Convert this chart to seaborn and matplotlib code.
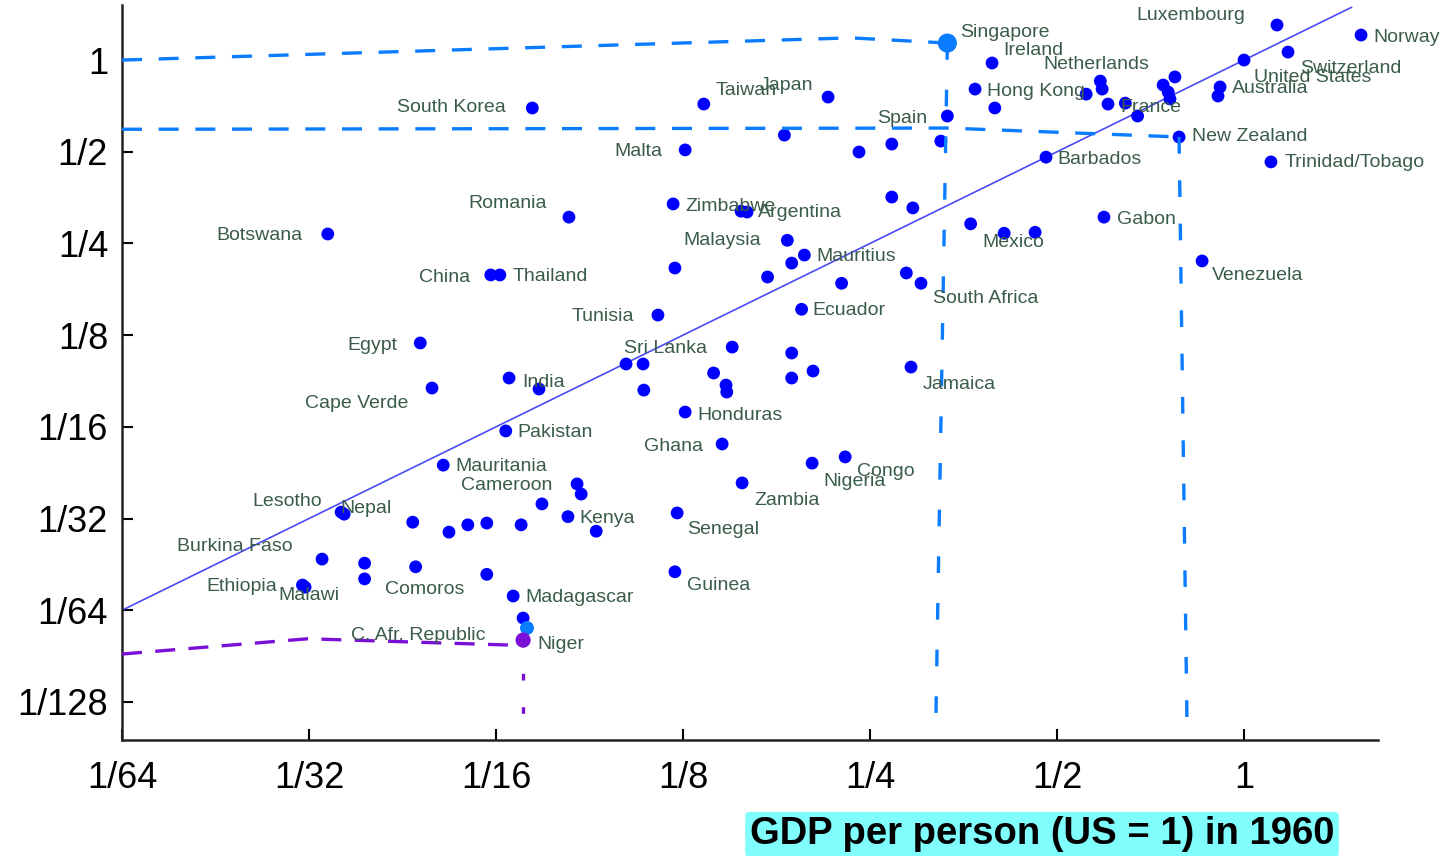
import matplotlib
matplotlib.use("Agg")
import matplotlib.pyplot as plt
import seaborn as sns
import pandas as pd

# GDP per person relative to the US: 1960 (x) and the later year (y)
countries = [
    "Luxembourg", "Norway", "Singapore", "Switzerland", "United States", "Ireland",
    "Netherlands", "", "", "Hong Kong", "", "France", "", "", "", "", "", "",
    "Australia", "", "New Zealand", "Trinidad/Tobago", "Barbados", "Spain",
    "", "", "", "", "Japan", "Taiwan", "South Korea", "Malta", "Gabon",
    "", "", "", "Mexico", "", "Venezuela", "", "South Africa", "Jamaica",
    "Romania", "Zimbabwe", "", "Argentina", "Malaysia", "Mauritius", "", "", "", "",
    "Ecuador", "Botswana", "China", "Thailand", "Tunisia", "Egypt", "Sri Lanka",
    "", "", "", "", "", "", "", "", "", "India", "", "Cape Verde", "Honduras",
    "Pakistan", "Ghana", "Mauritania", "Nigeria", "Congo", "Zambia", "Cameroon",
    "", "", "Kenya", "", "Senegal", "Lesotho", "Nepal", "", "", "", "", "",
    "Burkina Faso", "", "", "Comoros", "Ethiopia", "Malawi", "", "Guinea",
    "Madagascar", "", "C. Afr. Republic", "Niger",
]
gdp_1960 = [
    1.130, 1.543, 0.333, 1.177, 1.000, 0.393,
    0.587, 0.591, 0.557, 0.369, 0.397, 0.604, 0.644, 0.674, 0.774, 0.741, 0.755, 0.760,
    0.915, 0.908, 0.786, 1.105, 0.480, 0.333,
    0.325, 0.271, 0.240, 0.182, 0.214, 0.135, 0.0715, 0.126, 0.595,
    0.271, 0.293, 0.363, 0.411, 0.461, 0.856, 0.286, 0.302, 0.291,
    0.0819, 0.1205, 0.155, 0.1585, 0.184, 0.196, 0.187, 0.171, 0.225, 0.1213,
    0.194, 0.0335, 0.0613, 0.0634, 0.1139, 0.0472, 0.1012,
    0.1078, 0.150, 0.187, 0.2024, 0.187, 0.140, 0.1466, 0.147, 0.1081, 0.0656, 0.0733, 0.0493, 0.126,
    0.0648, 0.1445, 0.0514, 0.2017, 0.228, 0.1556, 0.0844,
    0.0857, 0.0741, 0.0816, 0.0906, 0.1223, 0.0352, 0.0356, 0.0459, 0.0525, 0.0563, 0.0604, 0.0686,
    0.0328, 0.0384, 0.0464, 0.0384, 0.0305, 0.0308, 0.0604, 0.1213,
    0.0666, 0.0691, 0.0701, 0.0691,
]
gdp_recent = [
    1.303, 1.208, 1.137, 1.062, 1.000, 0.978,
    0.853, 0.803, 0.773, 0.803, 0.696, 0.717, 0.722, 0.655, 0.880, 0.828, 0.785, 0.745,
    0.816, 0.762, 0.559, 0.463, 0.480, 0.655,
    0.542, 0.530, 0.499, 0.567, 0.756, 0.717, 0.696, 0.507, 0.305,
    0.355, 0.327, 0.290, 0.270, 0.272, 0.219, 0.200, 0.185, 0.0982,
    0.305, 0.337, 0.319, 0.317, 0.256, 0.229, 0.2155, 0.194, 0.185, 0.2076,
    0.152, 0.2685, 0.197, 0.197, 0.1455, 0.1178, 0.1005,
    0.1005, 0.1142, 0.1092, 0.0953, 0.0904, 0.0939, 0.0857, 0.0813, 0.0825, 0.0904, 0.0832, 0.0838, 0.0699,
    0.0606, 0.0549, 0.0468, 0.0475, 0.0498, 0.0409, 0.0406,
    0.0376, 0.0349, 0.0317, 0.0284, 0.0326, 0.0328, 0.0323, 0.0304, 0.0282, 0.0298, 0.0302, 0.0298,
    0.0230, 0.0223, 0.0217, 0.0198, 0.0189, 0.0186, 0.0205, 0.0209,
    0.0174, 0.01473, 0.01366, 0.01247,
]

# 45-degree reference line (equal relative income in both years)
ref_line = [1 / 64, 1.49]

tick_values = [1 / 64, 1 / 32, 1 / 16, 1 / 8, 1 / 4, 1 / 2, 1]
tick_labels = ["1/64", "1/32", "1/16", "1/8", "1/4", "1/2", "1"]
y_tick_values = [1 / 128, 1 / 64, 1 / 32, 1 / 16, 1 / 8, 1 / 4, 1 / 2, 1]
y_tick_labels = ["1/128", "1/64", "1/32", "1/16", "1/8", "1/4", "1/2", "1"]
x_title = "GDP per person (US = 1) in 1960"

# label placement: (dx px, dy px downward, horizontal alignment)
label_pos = {
    "Luxembourg": (-32, -10, "right"), "Norway": (12, 2, "left"),
    "Singapore": (13, -11, "left"), "Switzerland": (12, 16, "left"),
    "United States": (10, 17, "left"), "Ireland": (11, -12, "left"),
    "Netherlands": (-4, -17, "center"), "Hong Kong": (12, 2, "left"),
    "France": (12, 3, "left"), "Australia": (12, 2, "left"),
    "New Zealand": (13, 0, "left"), "Trinidad/Tobago": (14, 1, "left"),
    "Barbados": (11, 2, "left"), "Spain": (-20, 2, "right"),
    "Japan": (-15, -12, "right"), "Taiwan": (12, -14, "left"),
    "South Korea": (-27, 0, "right"), "Malta": (-23, 2, "right"),
    "Gabon": (13, 2, "left"), "Mexico": (-22, 9, "left"),
    "Venezuela": (10, 15, "left"), "South Africa": (12, 15, "left"),
    "Jamaica": (12, 17, "left"), "Romania": (-22, -14, "right"),
    "Zimbabwe": (12, 3, "left"), "Argentina": (11, 0, "left"),
    "Malaysia": (-26, 0, "right"), "Mauritius": (12, 1, "left"),
    "Ecuador": (11, 1, "left"), "Botswana": (-25, 1, "right"),
    "China": (-21, 3, "right"), "Thailand": (13, 2, "left"),
    "Tunisia": (-24, 1, "right"), "Egypt": (-23, 3, "right"),
    "Sri Lanka": (-2, -16, "left"), "India": (13, 4, "left"),
    "Cape Verde": (-24, 15, "right"), "Honduras": (12, 3, "left"),
    "Pakistan": (12, 2, "left"), "Ghana": (-19, 3, "right"),
    "Mauritania": (12, 1, "left"), "Nigeria": (11, 18, "left"),
    "Congo": (12, 15, "left"), "Zambia": (12, 18, "left"),
    "Cameroon": (-25, 2, "right"), "Kenya": (11, 2, "left"),
    "Senegal": (10, 17, "left"), "Lesotho": (-19, -11, "right"),
    "Nepal": (-4, -6, "left"), "Burkina Faso": (-29, -13, "right"),
    "Comoros": (20, 11, "left"), "Ethiopia": (-25, 1, "right"),
    "Malawi": (-27, 8, "left"), "Guinea": (12, 14, "left"),
    "Madagascar": (12, 1, "left"), "C. Afr. Republic": (-42, 7, "right"),
    "Niger": (14, 4, "left"),
}

df = pd.DataFrame({"country": countries, "gdp_1960": gdp_1960, "gdp_recent": gdp_recent})

sns.set_style("ticks")
plt.rcParams["font.family"] = ["Liberation Sans", "DejaVu Sans"]

fig = plt.figure(figsize=(14.43, 8.56), dpi=100)
ax = fig.add_axes([122 / 1443, 116 / 856, 1256 / 1443, 735 / 856])

sns.lineplot(x=ref_line, y=ref_line, ax=ax, color="#4a4af5", linewidth=1.2, zorder=2)
sns.scatterplot(data=df, x="gdp_1960", y="gdp_recent", ax=ax, color="#0000ff",
                s=85, edgecolor="none", linewidth=0, zorder=3)

label_color = "#3a5c48"
for name, xv, yv in zip(countries, gdp_1960, gdp_recent):
    if not name:
        continue
    dx, dy, ha = label_pos[name]
    ax.annotate(name, (xv, yv), xytext=(dx, -dy), textcoords="offset pixels",
                ha=ha, va="center", fontsize=14, color=label_color, zorder=5)

ax.set_xscale("log", base=2)
ax.set_yscale("log", base=2)
x_lo, x_hi = 1 / 64, 1.643
y_lo, y_hi = 2 ** -7.415, 1.516
ax.set_xlim(x_lo, x_hi)
ax.set_ylim(y_lo, y_hi)
ax.set_xticks(tick_values)
ax.set_xticklabels(tick_labels)
ax.set_yticks(y_tick_values)
ax.set_yticklabels(y_tick_labels)
ax.minorticks_off()
ax.tick_params(axis="both", direction="in", length=8, width=1.5, labelsize=26, colors="black")
ax.tick_params(axis="x", pad=15)
ax.tick_params(axis="y", pad=10)
for side in ("left", "bottom"):
    ax.spines[side].set_linewidth(1.8)
    ax.spines[side].set_color("#222222")
sns.despine(ax=ax)

ax.set_xlabel(x_title, fontsize=27.5, fontweight="bold", color="black",
              bbox=dict(boxstyle="round,pad=0.12", facecolor="#80fdfd", edgecolor="none"))
ax.set_ylabel("")
ax.xaxis.set_label_coords(0.7325, -0.1285)
ax.xaxis.label.set_va("center")

# pen markings tracing Singapore, New Zealand and Niger back to the axes
idx = {n: i for i, n in enumerate(countries) if n}
sx, sy = gdp_1960[idx["Singapore"]], gdp_recent[idx["Singapore"]]
nx, ny = gdp_1960[idx["New Zealand"]], gdp_recent[idx["New Zealand"]]
gx, gy = gdp_1960[idx["Niger"]], gdp_recent[idx["Niger"]]
cx, cy = gdp_1960[idx["C. Afr. Republic"]], gdp_recent[idx["C. Afr. Republic"]]
pen_blue = "#0a7cff"
pen_purple = "#7a10d6"
ax.plot([x_lo, sx * 0.7, sx], [1.0, sy * 1.04, sy], color=pen_blue, lw=2.4,
        ls=(0, (6, 5)), zorder=4, solid_capstyle="round")
ax.plot([x_lo, sx, nx], [ny * 1.06, ny * 1.07, ny], color=pen_blue, lw=2.4,
        ls=(0, (6, 5)), zorder=4)
ax.plot([sx, sx * 0.957], [sy, y_lo], color=pen_blue, lw=2.4, ls=(0, (5, 9)), zorder=4)
ax.plot([nx, nx * 1.03], [ny, y_lo * 1.1], color=pen_blue, lw=2.4, ls=(0, (5, 8)), zorder=4)
ax.plot([x_lo, gx * 0.45, gx], [gy * 0.9, gy * 1.01, gy * 0.96], color=pen_purple, lw=2.4,
        ls=(0, (6, 4)), zorder=4)
ax.plot([gx, gx], [gy, y_lo], color=pen_purple, lw=2.4, ls=(0, (2, 8)), zorder=4)
ax.scatter([sx], [sy], s=190, color=pen_blue, zorder=4, edgecolor="none")
ax.scatter([cx], [cy], s=100, color=pen_blue, zorder=4, edgecolor="none")
ax.scatter([gx], [gy], s=120, color=pen_purple, zorder=4, edgecolor="none")

fig.savefig("out.png", dpi=100)
